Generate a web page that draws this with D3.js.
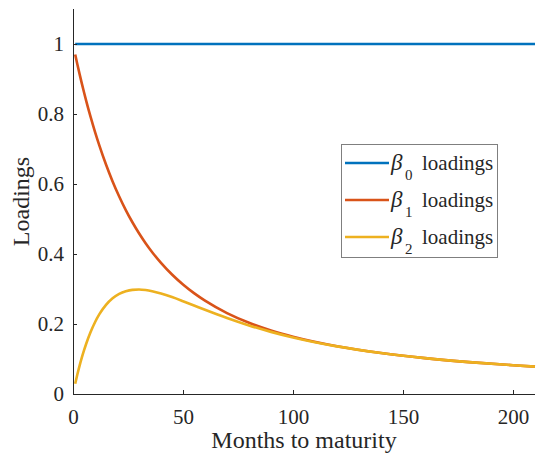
<!DOCTYPE html>
<html>
<head>
<meta charset="utf-8">
<script src="https://cdn.jsdelivr.net/npm/d3@7"></script>
<style>
  html, body { margin: 0; padding: 0; background: #fff; }
  svg { display: block; }
  svg text { font-family: "Liberation Serif", "Times New Roman", Times, serif; fill: #262626; }
</style>
</head>
<body>
<svg id="chart" width="537" height="456"></svg>
<script>
// Maturities (months)
const maturities = [1, 2, 3, 4, 5, 6, 8, 10, 12, 15, 18, 21, 24, 27, 30, 33, 36, 40, 45, 50, 55, 60, 70, 80, 90, 100, 120, 140, 160, 180, 200, 210];
// Series values
const beta0 = [1, 1, 1, 1, 1, 1, 1, 1, 1, 1, 1, 1, 1, 1, 1, 1, 1, 1, 1, 1, 1, 1, 1, 1, 1, 1, 1, 1, 1, 1, 1, 1];
const beta1 = [0.9701, 0.9415, 0.9140, 0.8875, 0.8620, 0.8376, 0.7915, 0.7489, 0.7095, 0.6556, 0.6074, 0.5643, 0.5255, 0.4907, 0.4593, 0.4309, 0.4052, 0.3746, 0.3414, 0.3128, 0.2881, 0.2666, 0.2313, 0.2037, 0.1817, 0.1638, 0.1367, 0.1173, 0.1026, 0.0912, 0.0821, 0.0782];
const beta2 = [0.0292, 0.0562, 0.0810, 0.1037, 0.1245, 0.1437, 0.1771, 0.2050, 0.2280, 0.2545, 0.2733, 0.2860, 0.2937, 0.2976, 0.2984, 0.2969, 0.2936, 0.2871, 0.2769, 0.2652, 0.2530, 0.2407, 0.2172, 0.1960, 0.1775, 0.1616, 0.1361, 0.1171, 0.1026, 0.0912, 0.0821, 0.0782];
const seriesNames = ["0", "1", "2"];
const seriesColors = ["#0072BD", "#D95319", "#EDB120"];
const xTicks = [0, 50, 100, 150, 200];
const yTicks = [0, 0.2, 0.4, 0.6, 0.8, 1];

const svg = d3.select("#chart");
const mLeft = 73, mRight = 535, mTop = 9, mBottom = 394;

const x = d3.scaleLinear().domain([0, 210]).range([mLeft, mRight]);
const y = d3.scaleLinear().domain([0, 1.1]).range([mBottom, mTop]);

const axisColor = "#262626";

// Lines
const series = [beta0, beta1, beta2];
const line = d3.line().x(d => x(d[0])).y(d => y(d[1])).curve(d3.curveMonotoneX);
series.forEach((vals, i) => {
  svg.append("path")
    .datum(maturities.map((m, j) => [m, vals[j]]))
    .attr("d", line)
    .attr("fill", "none")
    .attr("stroke", seriesColors[i])
    .attr("stroke-width", 2.6);
});

// Axes
const xAxis = d3.axisBottom(x).tickValues(xTicks).tickSize(-4).tickPadding(15).tickFormat(d3.format("d"));
const yAxis = d3.axisLeft(y).tickValues(yTicks).tickSize(-4).tickPadding(9).tickFormat(d => d === 0 || d === 1 ? d3.format("d")(d) : d3.format(".1f")(d));

const gx = svg.append("g").attr("transform", `translate(0,${mBottom})`).call(xAxis);
const gy = svg.append("g").attr("transform", `translate(${mLeft},0)`).call(yAxis);
[gx, gy].forEach(g => {
  g.attr("font-family", null).attr("font-size", null);
  g.select(".domain").attr("stroke", axisColor).attr("stroke-width", 1);
  g.selectAll(".tick line").attr("stroke", axisColor).attr("stroke-width", 1);
  g.selectAll(".tick text").attr("font-size", 21).attr("fill", axisColor);
});
gx.select(".domain").attr("d", `M${mLeft},0.5H${mRight}`);
gy.select(".domain").attr("d", `M0.5,${mBottom}V${mTop}`);

// Axis labels
svg.append("text")
  .attr("x", 304)
  .attr("y", 448)
  .attr("text-anchor", "middle")
  .attr("font-size", 24)
  .text("Months to maturity");

svg.append("text")
  .attr("transform", `translate(29,${(mTop + mBottom) / 2}) rotate(-90)`)
  .attr("text-anchor", "middle")
  .attr("font-size", 24)
  .text("Loadings");

// Legend
const lg = svg.append("g");
lg.append("rect")
  .attr("x", 341.5).attr("y", 144.5)
  .attr("width", 156).attr("height", 113)
  .attr("fill", "#fff")
  .attr("stroke", "#7f7f7f")
  .attr("stroke-width", 1);
const rowY = [163, 200, 237];
seriesNames.forEach((n, i) => {
  lg.append("line")
    .attr("x1", 345).attr("x2", 389)
    .attr("y1", rowY[i]).attr("y2", rowY[i])
    .attr("stroke", seriesColors[i]).attr("stroke-width", 2.6);
  const t = lg.append("text")
    .attr("x", 391).attr("y", rowY[i] + 7)
    .attr("font-size", 21);
  t.append("tspan").attr("font-style", "italic").attr("font-size", 23).text("β");
  t.append("tspan").attr("font-size", 15).attr("x", 405).attr("dy", 10).text(n);
  t.append("tspan").attr("dy", -10).attr("x", 422).text("loadings");
});
</script>
</body>
</html>
